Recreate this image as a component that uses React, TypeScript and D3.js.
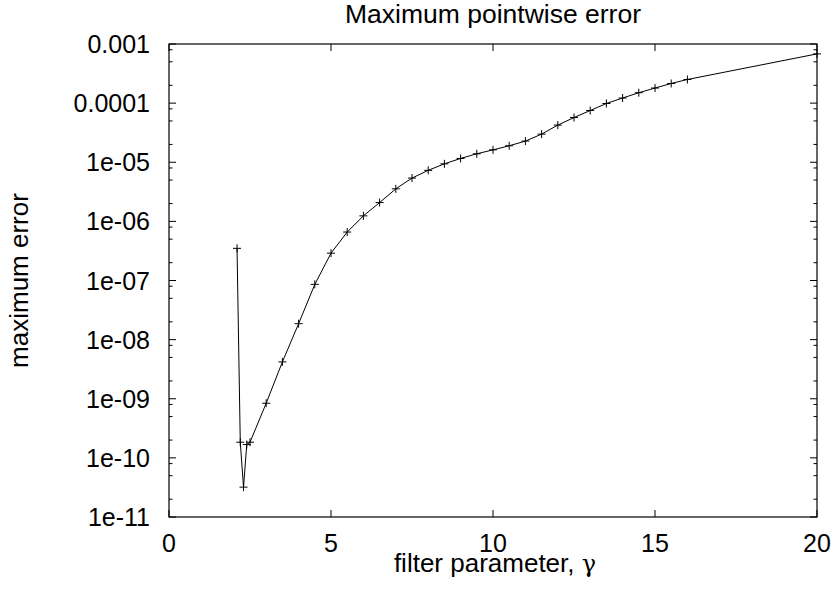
import React from "react";
import * as d3 from "d3";

const gamma = [2.1, 2.2, 2.3, 2.4, 2.5, 3, 3.5, 4, 4.5, 5, 5.5, 6, 6.5, 7, 7.5, 8, 8.5, 9, 9.5, 10, 10.5, 11, 11.5, 12, 12.5, 13, 13.5, 14, 14.5, 15, 15.5, 16, 20];
const maxError = [3.5e-7, 1.84e-10, 3.2e-11, 1.68e-10, 1.84e-10, 8.4e-10, 4.2e-9, 1.86e-8, 8.6e-8, 2.9e-7, 6.6e-7, 1.24e-6, 2.08e-6, 3.55e-6, 5.4e-6, 7.3e-6, 9.4e-6, 1.16e-5, 1.39e-5, 1.62e-5, 1.9e-5, 2.28e-5, 2.99e-5, 4.25e-5, 5.7e-5, 7.5e-5, 9.86e-5, 1.22e-4, 1.5e-4, 1.8e-4, 2.15e-4, 2.51e-4, 6.8e-4];

const xTicks = [0, 5, 10, 15, 20];
const yTickValues = [1e-11, 1e-10, 1e-9, 1e-8, 1e-7, 1e-6, 1e-5, 1e-4, 1e-3];
const yTickLabels = ["1e-11", "1e-10", "1e-09", "1e-08", "1e-07", "1e-06", "1e-05", "0.0001", "0.001"];
const minorMultipliers = [2, 5, 8];

const title = "Maximum pointwise error";
const xLabelText = "filter parameter, ";
const xLabelSymbol = "γ";
const yLabel = "maximum error";

const W = 835, H = 589;
const L = 169, R = 817, T = 44, B = 517;
const FONT = "'Liberation Sans', Arial, Helvetica, sans-serif";
const FS_TICK = 25;
const FS_LABEL = 26;
const FS_TITLE = 26.5;

export default function App() {
  const x = d3.scaleLinear().domain([0, 20]).range([L, R]);
  const y = d3.scaleLog().domain([1e-11, 1e-3]).range([B, T]);
  const line = d3.line<number>().x((_, i) => x(gamma[i])).y((d) => y(d));

  const minors: number[] = [];
  for (let i = 0; i < yTickValues.length - 1; i++) {
    for (const m of minorMultipliers) minors.push(yTickValues[i] * m);
  }

  return (
    <svg width={W} height={H} style={{ position: "absolute", left: 0, top: 0, background: "#fff" }} fontFamily={FONT}>
      <rect x={0} y={0} width={W} height={H} fill="#fff" />
      <text x={(L + R) / 2} y={23} textAnchor="middle" fontSize={FS_TITLE} fill="#000">{title}</text>
      {yTickValues.map((v, i) => (
        <g key={"yt" + i}>
          <line x1={L} x2={L + 7} y1={y(v)} y2={y(v)} stroke="#000" strokeWidth={1} />
          <line x1={R} x2={R - 7} y1={y(v)} y2={y(v)} stroke="#000" strokeWidth={1} />
          <text x={150} y={y(v)} dy="0.36em" textAnchor="end" fontSize={FS_TICK} fill="#000">{yTickLabels[i]}</text>
        </g>
      ))}
      {minors.map((v, i) => (
        <g key={"ym" + i}>
          <line x1={L} x2={L + 3.5} y1={y(v)} y2={y(v)} stroke="#000" strokeWidth={1} />
          <line x1={R} x2={R - 3.5} y1={y(v)} y2={y(v)} stroke="#000" strokeWidth={1} />
        </g>
      ))}
      {xTicks.map((v, i) => (
        <g key={"xt" + i}>
          <line x1={x(v)} x2={x(v)} y1={B} y2={B - 7} stroke="#000" strokeWidth={1} />
          <line x1={x(v)} x2={x(v)} y1={T} y2={T + 7} stroke="#000" strokeWidth={1} />
          <text x={x(v)} y={552} textAnchor="middle" fontSize={FS_TICK} fill="#000">{String(v)}</text>
        </g>
      ))}
      <rect x={L} y={T} width={R - L} height={B - T} fill="none" stroke="#000" strokeWidth={1.2} />
      <path d={line(maxError) || ""} fill="none" stroke="#000" strokeWidth={1} />
      {maxError.map((v, i) => (
        <g key={"p" + i} stroke="#000" strokeWidth={1}>
          <line x1={x(gamma[i]) - 4} x2={x(gamma[i]) + 4} y1={y(v)} y2={y(v)} />
          <line x1={x(gamma[i])} x2={x(gamma[i])} y1={y(v) - 4} y2={y(v) + 4} />
        </g>
      ))}
      <text x={(L + R) / 2 + 2} y={572} textAnchor="middle" fontSize={FS_LABEL} fill="#000">
        {xLabelText}
        <tspan fontFamily="'DejaVu Serif', 'Liberation Serif', serif" fontSize={FS_LABEL - 2}>{xLabelSymbol}</tspan>
      </text>
      <text transform={`translate(28, ${(T + B) / 2}) rotate(-90)`} textAnchor="middle" fontSize={FS_LABEL} fill="#000">{yLabel}</text>
    </svg>
  );
}
